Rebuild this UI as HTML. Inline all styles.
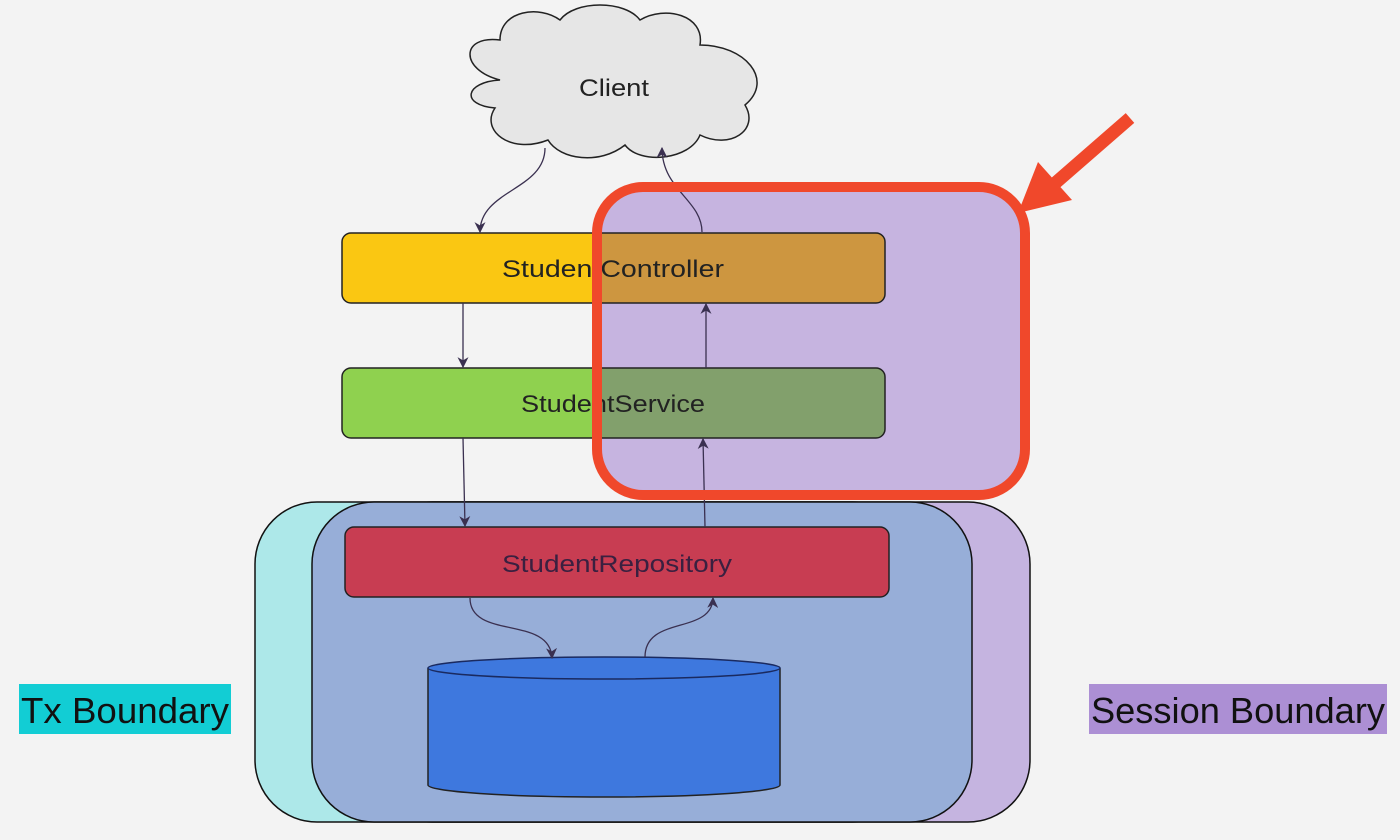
<!DOCTYPE html>
<html><head><meta charset="utf-8"><style>html,body{margin:0;padding:0;background:#f3f3f3}svg{display:block}</style></head>
<body>
<svg width="1400" height="840" viewBox="0 0 1400 840" xmlns="http://www.w3.org/2000/svg" font-family="'Liberation Sans', 'DejaVu Sans', sans-serif">
<defs>
<marker id="ah" viewBox="0 0 10 10" refX="9" refY="5" markerWidth="11" markerHeight="11" orient="auto-start-reverse" markerUnits="userSpaceOnUse"><path d="M0,0 L10,5 L0,10 L3,5 Z" fill="#3a3050"/></marker>
<clipPath id="hl"><rect x="597" y="187" width="428" height="308" rx="46"/></clipPath>
</defs>
<rect width="1400" height="840" fill="#f3f3f3"/>
<!-- boundaries -->
<rect x="255" y="502" width="660" height="320" rx="62" fill="#ade8e9" stroke="#111" stroke-width="1.5"/>
<rect x="370" y="502" width="660" height="320" rx="62" fill="#c5b4e0" stroke="#111" stroke-width="1.5"/>
<rect x="312" y="502" width="660" height="320" rx="62" fill="#97aed8" stroke="#111" stroke-width="1.5"/>
<!-- cloud -->
<path d="M500,80 C460,70 460,35 500,40 C500,10 540,5 560,20 C575,0 625,0 640,20 C665,5 705,15 700,45 C745,45 775,80 745,105 C760,130 730,150 700,135 C690,160 640,165 625,145 C600,165 560,160 548,140 C510,155 480,130 495,108 C460,105 465,82 500,80 Z" fill="#e6e6e6" stroke="#222" stroke-width="1.5"/>
<!-- boxes -->
<rect x="342" y="233" width="543" height="70" rx="9" fill="#fac712" stroke="#222" stroke-width="1.5"/>
<rect x="342" y="368" width="543" height="70" rx="9" fill="#8fd14f" stroke="#222" stroke-width="1.5"/>
<rect x="345" y="527" width="544" height="70" rx="9" fill="#c83d52" stroke="#222" stroke-width="1.5"/>
<!-- highlight fill -->
<rect x="597" y="187" width="428" height="308" rx="46" fill="#c6b4e0"/>
<g clip-path="url(#hl)">
<rect x="342" y="233" width="543" height="70" rx="9" fill="#cd9640" stroke="#222" stroke-width="1.5"/>
<rect x="342" y="368" width="543" height="70" rx="9" fill="#82a06c" stroke="#222" stroke-width="1.5"/>
</g>
<text x="614" y="96" font-size="24" text-anchor="middle" fill="#222" textLength="70" lengthAdjust="spacingAndGlyphs">Client</text>
<text x="613" y="277" font-size="24" text-anchor="middle" fill="#222" textLength="222" lengthAdjust="spacingAndGlyphs">StudentController</text>
<text x="613" y="412" font-size="24" text-anchor="middle" fill="#222" textLength="184" lengthAdjust="spacingAndGlyphs">StudentService</text>
<text x="617" y="572" font-size="24" text-anchor="middle" fill="#3a2040" textLength="230" lengthAdjust="spacingAndGlyphs">StudentRepository</text>
<!-- cylinder -->
<path d="M428,668 L428,785 A176,12 0 0 0 780,785 L780,668" fill="#3e78de" stroke="#222" stroke-width="1.5"/>
<ellipse cx="604" cy="668" rx="176" ry="11" fill="#3e78de" stroke="#1a2a60" stroke-width="1.5"/>
<!-- connectors -->
<g fill="none" stroke="#3a3050" stroke-width="1.3">
<path d="M545,148 C545,190 480,190 480,232" marker-end="url(#ah)"/>
<path d="M702,232 C702,200 662,190 662,148" marker-end="url(#ah)"/>
<path d="M463,303 L463,367" marker-end="url(#ah)"/>
<path d="M706,368 L706,304" marker-end="url(#ah)"/>
<path d="M463,438 L465,526" marker-end="url(#ah)"/>
<path d="M705,527 L703,439" marker-end="url(#ah)"/>
<path d="M470,598 C470,640 550,615 552,658" marker-end="url(#ah)"/>
<path d="M645,657 C645,615 712,635 713,598" marker-end="url(#ah)"/>
</g>
<!-- highlight stroke -->
<rect x="597" y="187" width="428" height="308" rx="46" fill="none" stroke="#f0482b" stroke-width="10"/>
<!-- red arrow -->
<line x1="1130" y1="118" x2="1045" y2="192" stroke="#f0482b" stroke-width="13"/>
<path d="M1018,213 L1038,162 L1072,200 Z" fill="#f0482b"/>
<!-- labels -->
<rect x="19" y="684" width="212" height="50" fill="#12cdd4"/>
<text x="125" y="723" font-size="36" text-anchor="middle" fill="#111" textLength="208" lengthAdjust="spacingAndGlyphs">Tx Boundary</text>
<rect x="1089" y="684" width="298" height="50" fill="#ac8fd4"/>
<text x="1238" y="723" font-size="36" text-anchor="middle" fill="#111" textLength="294" lengthAdjust="spacingAndGlyphs">Session Boundary</text>
</svg>
</body></html>
